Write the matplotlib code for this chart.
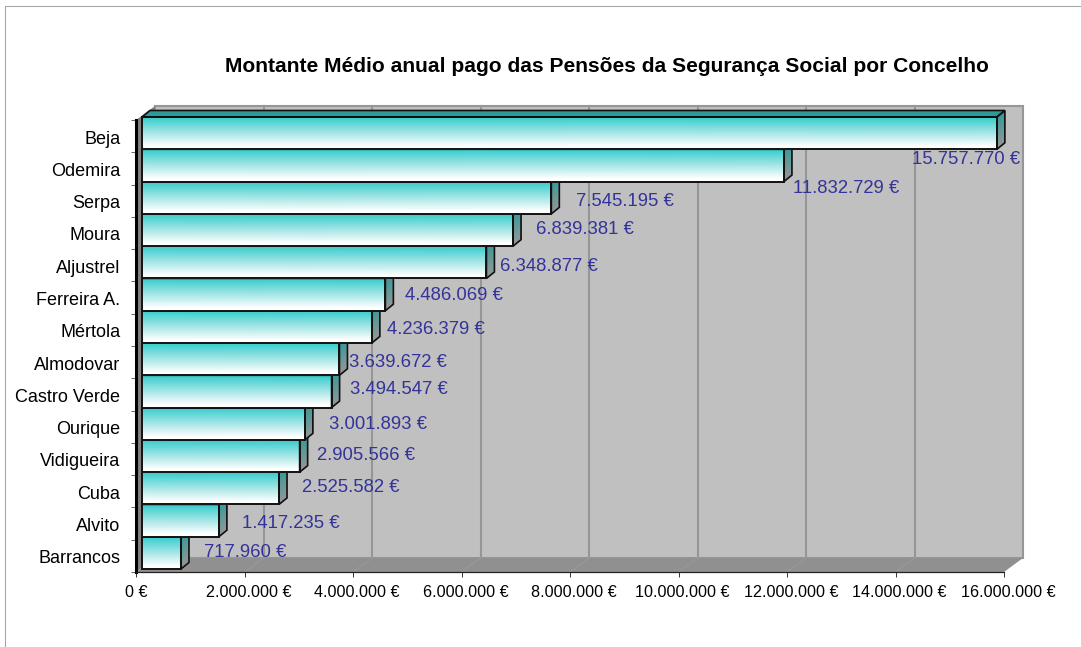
import matplotlib
matplotlib.use('Agg')
import matplotlib.pyplot as plt
import numpy as np
from matplotlib.colors import LinearSegmentedColormap
from matplotlib.patches import Polygon
from matplotlib.lines import Line2D
from matplotlib.transforms import Affine2D

plt.rcParams['font.family'] = ['Liberation Sans', 'DejaVu Sans']

concelhos = ['Beja', 'Odemira', 'Serpa', 'Moura', 'Aljustrel', 'Ferreira A.', 'Mértola',
             'Almodovar', 'Castro Verde', 'Ourique', 'Vidigueira', 'Cuba', 'Alvito', 'Barrancos']
montantes = [15757770, 11832729, 7545195, 6839381, 6348877, 4486069, 4236379,
             3639672, 3494547, 3001893, 2905566, 2525582, 1417235, 717960]
etiquetas = ['15.757.770 €', '11.832.729 €', '7.545.195 €', '6.839.381 €', '6.348.877 €',
             '4.486.069 €', '4.236.379 €', '3.639.672 €', '3.494.547 €', '3.001.893 €',
             '2.905.566 €', '2.525.582 €', '1.417.235 €', '717.960 €']
eixo_x = [0, 2000000, 4000000, 6000000, 8000000, 10000000, 12000000, 14000000, 16000000]
eixo_x_txt = ['0 €', '2.000.000 €', '4.000.000 €', '6.000.000 €', '8.000.000 €',
              '10.000.000 €', '12.000.000 €', '14.000.000 €', '16.000.000 €']

# manual placement of the value labels, pixels from the bar end (the labels were dragged by hand)
desvio_x = [-79, 15, 31, 29, 20, 26, 21, 16, 24, 30, 23, 29, 29, 29]
desvio_y = [23, 20, 1, -3, 1, -2, 0, 0, -5, -2, -4, -4, 0, -3]

LARG, ALT = 1081, 647
fig = plt.figure(figsize=(LARG / 100, ALT / 100), dpi=100)
ax = fig.add_axes([136 / LARG, 1 - 572 / ALT, 868 / LARG, 452 / ALT])

n = len(concelhos)
xmax = 16000000
ax.set_xlim(0, xmax)
ax.set_ylim(n, 0)

# size of one pixel in data units
PX = xmax / 868
PY = n / 452

# depth of the 3D box and of the bars, in pixels
FUNDO_X, FUNDO_Y = 19, 14
BARRA_DX, BARRA_DY = 6, 3
LADO_X, LADO_Y = 8, 6.5


def poligono(pontos, **kw):
    ax.add_patch(Polygon(pontos, closed=True, clip_on=False, **kw))


fx = FUNDO_X * PX
fy = FUNDO_Y * PY

# walls and floor
poligono([(fx, -fy), (xmax + fx, -fy), (xmax + fx, n - fy), (fx, n - fy)],
         facecolor='#c0c0c0', edgecolor='#969696', linewidth=1.5, zorder=1)
poligono([(0, 0), (fx, -fy), (fx, n - fy), (0, n)], facecolor='#808080', edgecolor='none', zorder=1)
poligono([(0, n), (fx, n - fy), (xmax + fx, n - fy), (xmax, n)], facecolor='#909090',
         edgecolor='none', zorder=1)

# grid on the back wall and on the floor
for v in eixo_x[1:-1]:
    ax.plot([v + fx, v + fx], [-fy, n - fy], color='#969696', lw=1.5, zorder=1.5, clip_on=False)
    ax.plot([v, v + fx], [n, n - fy], color='#999999', lw=0.8, zorder=1.5, clip_on=False)

frente = LinearSegmentedColormap.from_list('frente', [(0, '#33cccc'), (0.5, '#a6e6e6'), (0.92, '#ffffff'), (1, '#ffffff')])
lado = LinearSegmentedColormap.from_list('lado', ['#339999', '#969696'])

bx = BARRA_DX * PX
by = BARRA_DY * PY
lx = LADO_X * PX
ly = LADO_Y * PY

# from the bottom up, so every bar covers the top face of the one below
for i in range(n - 1, -1, -1):
    v = montantes[i]
    topo = i - by
    base = i + 1 - by
    z = 3 + (n - i) * 0.1

    # front face
    ys = np.linspace(topo, base, 30)
    X, Y = np.meshgrid([bx, v + bx], ys)
    C = np.tile(np.linspace(0, 1, 30)[:, None], (1, 2))
    ax.pcolormesh(X, Y, C, cmap=frente, shading='gouraud', zorder=z, clip_on=False)
    poligono([(bx, topo), (v + bx, topo), (v + bx, base), (bx, base)], fill=False,
             edgecolor='#111111', linewidth=1.4, zorder=z + 0.03)

    # right side
    t = np.linspace(0, 1, 12)
    X = np.column_stack([np.full(12, v + bx), np.full(12, v + bx + lx)])
    Y = np.column_stack([topo + t, topo + t - ly])
    C = np.tile(t[:, None], (1, 2))
    ax.pcolormesh(X, Y, C, cmap=lado, shading='gouraud', zorder=z, clip_on=False)
    poligono([(v + bx, topo), (v + bx + lx, topo - ly), (v + bx + lx, base - ly), (v + bx, base)],
             fill=False, edgecolor='#111111', linewidth=1.2, zorder=z + 0.02)

    # top face
    poligono([(bx, topo), (bx + lx, topo - ly), (v + bx + lx, topo - ly), (v + bx, topo)],
             facecolor='#2f9a9a', edgecolor='#111111', linewidth=1.2, zorder=z + 0.01)

ax.set_xlim(0, xmax)
ax.set_ylim(n, 0)

for i in range(n):
    ax.annotate(etiquetas[i], xy=(montantes[i], i + 0.5), xytext=(desvio_x[i], -desvio_y[i]),
                textcoords='offset pixels', ha='left', va='center', fontsize=13.3,
                color='#333399', zorder=10, annotation_clip=False)

# axes
for lado_ax in ['top', 'right']:
    ax.spines[lado_ax].set_visible(False)
ax.spines['left'].set_linewidth(2.2)
ax.spines['left'].set_zorder(6)
ax.spines['bottom'].set_linewidth(0.9)
ax.spines['bottom'].set_color('#222222')
ax.spines['bottom'].set_zorder(6)
ax.set_facecolor('none')

ax.set_xticks(eixo_x)
ax.set_xticklabels(eixo_x_txt, fontsize=11.6)
ax.tick_params(axis='x', length=3.5, width=0.7, pad=6, color='#333333', colors='black')
ax.set_yticks(np.arange(n) + 0.5)
ax.set_yticklabels(concelhos, fontsize=13, verticalalignment='center')
ax.tick_params(axis='y', which='major', length=0, pad=11.4)
ax.set_yticks(np.arange(n + 1), minor=True)
ax.tick_params(axis='y', which='minor', length=3.5, width=0.7, color='#666666')

# nudge tick labels, in pixels
for lab in ax.get_xticklabels()[1:]:
    lab.set_transform(lab.get_transform() + Affine2D().translate(4, 0))
for lab in ax.get_yticklabels():
    lab.set_transform(lab.get_transform() + Affine2D().translate(0, -3))

fig.text(607 / LARG, 1 - 67 / ALT, 'Montante Médio anual pago das Pensões da Segurança Social por Concelho',
         ha='center', va='center', fontsize=15.1, fontweight='bold', color='black')

# frame of the pasted chart, only top and left show
fig.add_artist(Line2D([5 / LARG, 5 / LARG, 1], [0, 1 - 6 / ALT, 1 - 6 / ALT], color='#a6a6a6', lw=0.8))

fig.savefig('out.png', dpi=100)
